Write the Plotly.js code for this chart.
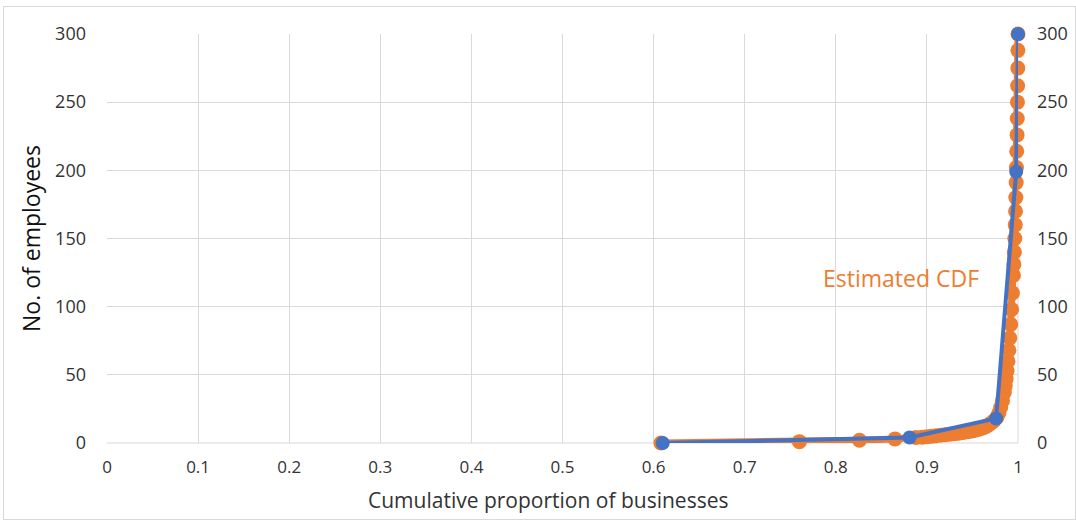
<!DOCTYPE html>
<html>
<head>
<meta charset="utf-8">
<script src="https://cdn.plot.ly/plotly-3.0.1.min.js"></script>
<style>
html,body{margin:0;padding:0;background:#fff;}
#chart{position:absolute;left:0;top:0;width:1076px;height:520px;}
#frame{position:absolute;left:3px;top:6px;width:1071px;height:512px;border:1px solid #d9d9d9;pointer-events:none;}
</style>
</head>
<body>
<div id="chart"></div>
<div id="frame"></div>
<script>
// Observed data (blue)
const observedX = [0.610, 0.881, 0.976, 0.998, 1.000];
const observedY = [0, 4, 18, 199, 300];

// Estimated CDF (orange)
const estimatedX = [0.608, 0.760, 0.826, 0.865, 0.888, 0.895, 0.900, 0.905, 0.910, 0.915, 0.920, 0.925, 0.930, 0.935, 0.940, 0.945, 0.950, 0.954, 0.958, 0.962, 0.965, 0.968, 0.971, 0.974, 0.977, 0.979, 0.981, 0.983, 0.985, 0.986, 0.987, 0.988, 0.989, 0.990, 0.991, 0.992, 0.993, 0.994, 0.995, 0.9955, 0.996, 0.9965, 0.997, 0.9973, 0.9976, 0.998, 0.9983, 0.9986, 0.999, 0.9992, 0.9994, 0.9996, 0.9998, 0.9999, 1.000];
const estimatedY = [0, 1, 2, 3, 4, 4.3, 4.6, 5, 5.3, 5.7, 6, 6.4, 6.8, 7.2, 7.7, 8.2, 8.8, 9.5, 10.3, 11.2, 12.2, 13.4, 14.8, 16.5, 19, 22, 26, 31, 37, 42, 47, 53, 60, 68, 77, 87, 98, 110, 123, 131, 140, 150, 160, 170, 180, 191, 202, 214, 226, 238, 250, 262, 275, 288, 300];

const xTicks = [0, 0.1, 0.2, 0.3, 0.4, 0.5, 0.6, 0.7, 0.8, 0.9, 1];
const xTickText = ['0', '0.1', '0.2', '0.3', '0.4', '0.5', '0.6', '0.7', '0.8', '0.9', '1'];
const yTicks = [0, 50, 100, 150, 200, 250, 300];

const ORANGE = '#ED7D31';
const BLUE = '#4472C4';
const FONT = 'Open Sans, Liberation Sans, sans-serif';

const traces = [
  {
    x: estimatedX, y: estimatedY, type: 'scatter', mode: 'lines+markers',
    line: {color: ORANGE, width: 7},
    marker: {color: ORANGE, size: 15},
    cliponaxis: false,
    yaxis: 'y', hoverinfo: 'skip', showlegend: false
  },
  {
    x: observedX, y: observedY, type: 'scatter', mode: 'lines+markers',
    line: {color: BLUE, width: 4},
    marker: {color: BLUE, size: 14},
    cliponaxis: false,
    yaxis: 'y2', hoverinfo: 'skip', showlegend: false
  }
];

const layout = {
  width: 1076, height: 520,
  margin: {l: 107, r: 58, t: 34, b: 77},
  paper_bgcolor: 'rgba(0,0,0,0)',
  plot_bgcolor: '#fff',
  font: {family: FONT, color: '#333', size: 18},
  xaxis: {
    range: [0, 1], tickvals: xTicks, ticktext: xTickText,
    showgrid: true, gridcolor: '#d9d9d9', gridwidth: 1,
    zeroline: false, showline: false, ticks: '',
    ticklabelstandoff: 12,
    tickfont: {size: 17, color: '#333'},
    fixedrange: true
  },
  yaxis: {
    range: [0, 300], tickvals: yTicks,
    showgrid: true, gridcolor: '#d9d9d9', gridwidth: 1,
    zeroline: false, showline: false, ticks: '',
    ticklabelstandoff: 20,
    tickfont: {size: 18, color: '#333'},
    title: {text: 'No. of employees', font: {size: 23, color: '#111'}, standoff: 8},
    fixedrange: true
  },
  yaxis2: {
    range: [0, 300], tickvals: yTicks, overlaying: 'y', side: 'right',
    showgrid: false, zeroline: false, showline: false, ticks: '',
    ticklabelstandoff: 18,
    tickfont: {size: 18, color: '#333'},
    fixedrange: true
  },
  shapes: [
    {type: 'line', xref: 'paper', yref: 'paper', x0: 0, x1: 1, y0: 0, y1: 0, line: {color: '#d9d9d9', width: 1}, layer: 'below'},
    {type: 'line', xref: 'paper', yref: 'paper', x0: 1, x1: 1, y0: 0, y1: 1, line: {color: '#d9d9d9', width: 1}, layer: 'below'}
  ],
  annotations: [
    {text: 'Cumulative proportion of businesses', x: 0.484, y: -0.139, xref: 'paper', yref: 'paper',
     showarrow: false, xanchor: 'center', yanchor: 'middle', font: {size: 21, color: '#333', family: FONT}},
    {text: 'Estimated CDF', x: 0.872, y: 121, xref: 'x', yref: 'y', showarrow: false,
     xanchor: 'center', yanchor: 'middle', font: {size: 23, color: ORANGE, family: FONT}}
  ]
};

Plotly.newPlot('chart', traces, layout, {staticPlot: true, displayModeBar: false});
</script>
</body>
</html>
